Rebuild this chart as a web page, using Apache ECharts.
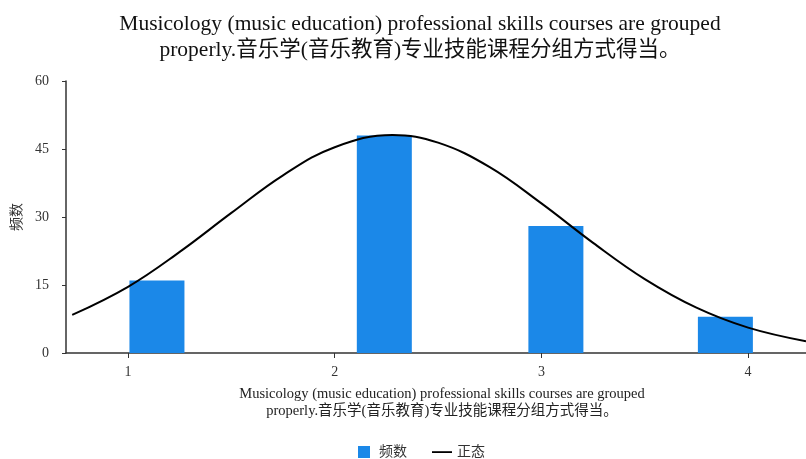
<!DOCTYPE html>
<html>
<head>
<meta charset="utf-8">
<script src="https://cdn.jsdelivr.net/npm/echarts@6/dist/echarts.min.js"></script>
<style>
html,body{margin:0;padding:0;background:#fff;}
#main{width:806px;height:459px;}
</style>
</head>
<body>
<div id="main"></div>
<script>
// Histogram bars: bar centre (x value) and count
var barCenters = [1.14, 2.24, 3.07, 3.89];
var barCounts = [16, 48, 28, 8];
// Normal curve points
var curveX = [0.73, 1.0, 1.25, 1.5, 1.75, 2.0, 2.28, 2.5, 2.75, 3.0, 3.25, 3.5, 3.75, 4.0, 4.28];
var curveY = [8.4, 14.6, 22.3, 30.9, 39.2, 45.4, 48.1, 46.4, 41.0, 33.0, 24.3, 16.3, 10.0, 5.6, 2.6];
var xTicks = [1, 2, 3, 4];
var yTicks = [0, 15, 30, 45, 60];
var titleText = 'Musicology (music education) professional skills courses are grouped\nproperly.音乐学(音乐教育)专业技能课程分组方式得当。';
var seriesNames = ['频数', '正态'];

var serif = "'Liberation Serif','Times New Roman','Noto Sans CJK SC',serif";
var chart = echarts.init(document.getElementById('main'), null, {renderer: 'canvas'});
chart.setOption({
  animation: false,
  backgroundColor: '#ffffff',
  title: {
    text: titleText,
    left: 415,
    top: 6,
    textAlign: 'center',
    textStyle: {fontFamily: serif, fontSize: 21.5, fontWeight: 'normal', color: '#111', lineHeight: 26}
  },
  legend: {
    left: 349,
    top: 440,
    padding: 5,
    itemWidth: 20,
    itemHeight: 12,
    itemGap: 25,
    textStyle: {fontFamily: serif, fontSize: 14, color: '#333'},
    data: [
      {name: seriesNames[0], icon: 'path://M0,0M20,12M4,0h12v12h-12z'},
      {name: seriesNames[1], icon: 'path://M0,0M20,12M0,5.2h20v1.8h-20z'}
    ]
  },
  grid: {left: 66, right: 0, top: 81, bottom: 106, containLabel: false},
  xAxis: {
    type: 'value',
    min: 0.7,
    max: 4.28,
    name: titleText,
    nameLocation: 'middle',
    nameGap: 33,
    nameTextStyle: {fontFamily: serif, fontSize: 14.5, color: '#222', lineHeight: 17, padding: [0, 0, 0, 12]},
    splitLine: {show: false},
    axisLine: {show: true, lineStyle: {color: '#333', width: 1.5}},
    axisTick: {show: true, length: 5, customValues: xTicks, lineStyle: {color: '#333'}},
    axisLabel: {customValues: xTicks, margin: 12, fontFamily: serif, fontSize: 14, color: '#333'}
  },
  yAxis: {
    type: 'value',
    min: 0,
    max: 60,
    interval: 15,
    name: seriesNames[0],
    nameLocation: 'middle',
    nameGap: 38,
    nameTextStyle: {fontFamily: serif, fontSize: 14, color: '#333'},
    splitLine: {show: false},
    axisLine: {show: true, lineStyle: {color: '#333', width: 1.5}},
    axisTick: {show: true, length: 4, lineStyle: {color: '#333'}},
    axisLabel: {margin: 17, fontFamily: serif, fontSize: 14, color: '#333'}
  },
  series: [
    {
      name: seriesNames[0],
      type: 'bar',
      barWidth: 55,
      itemStyle: {color: '#1B88E8'},
      data: barCenters.map(function (x, i) { return [x, barCounts[i]]; })
    },
    {
      name: seriesNames[1],
      type: 'line',
      smooth: 0.4,
      symbol: 'none',
      clip: true,
      lineStyle: {color: '#000', width: 2},
      itemStyle: {color: '#000'},
      data: curveX.map(function (x, i) { return [x, curveY[i]]; })
    }
  ]
});
</script>
</body>
</html>
